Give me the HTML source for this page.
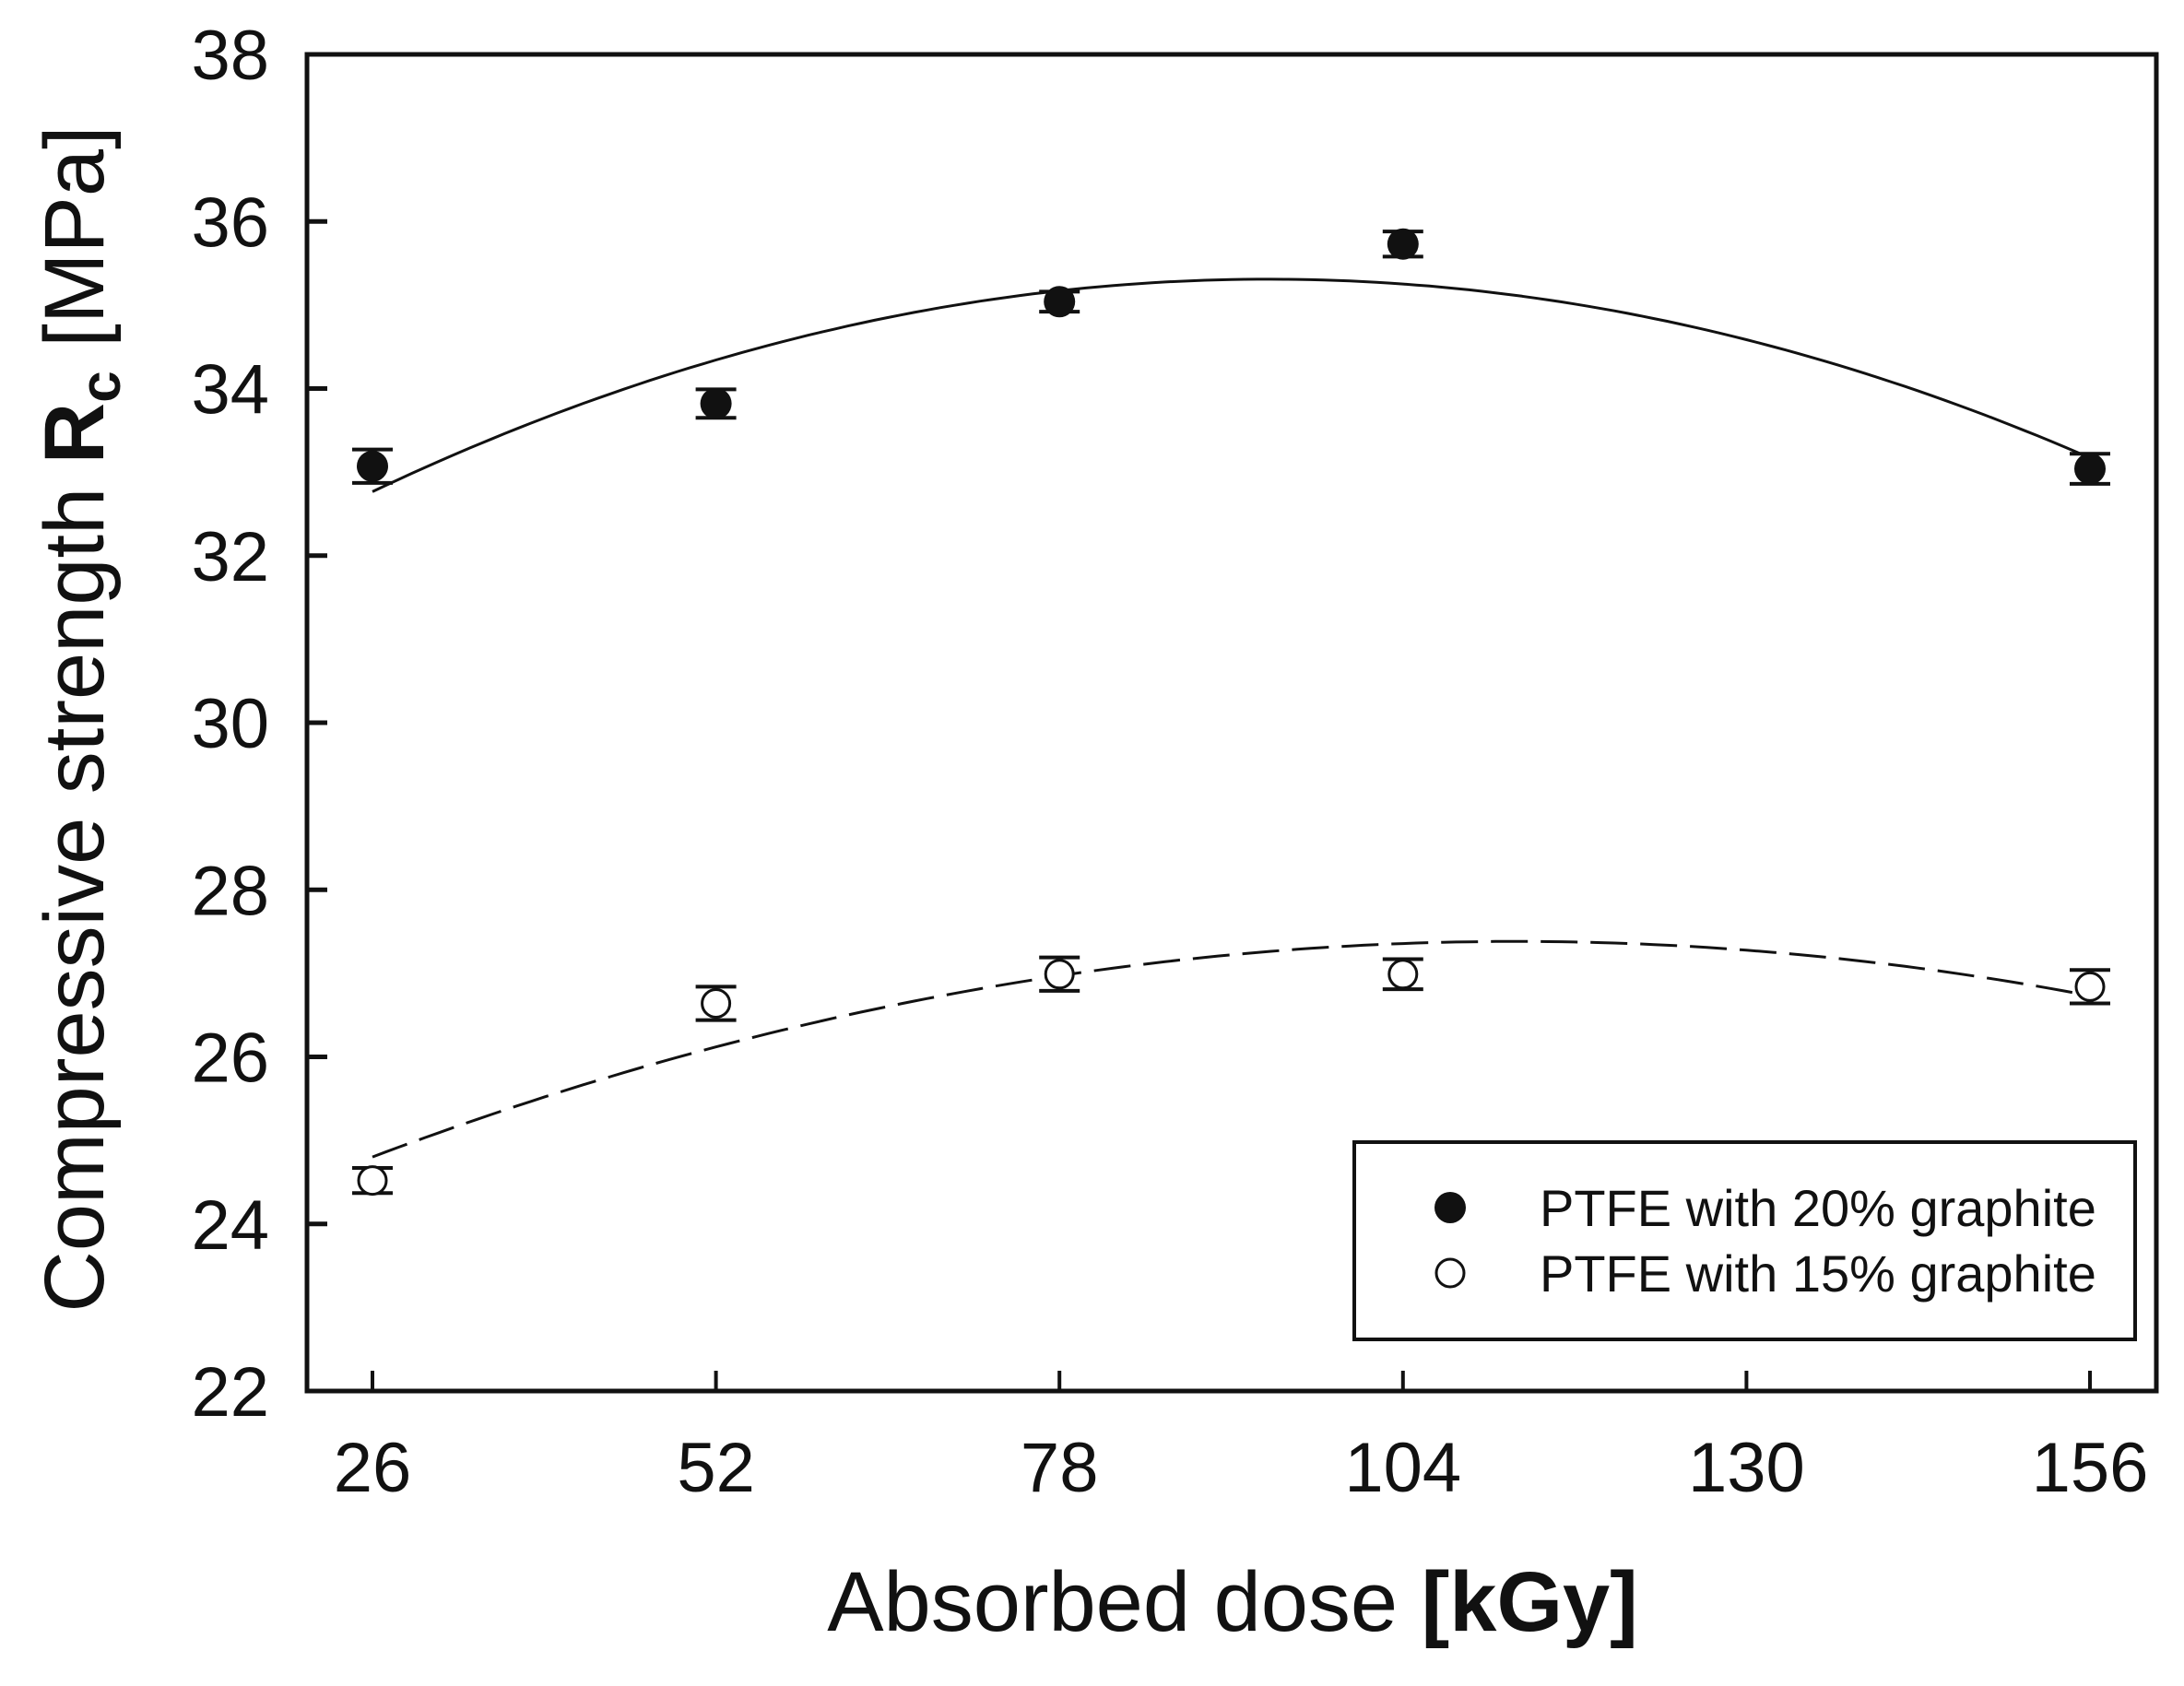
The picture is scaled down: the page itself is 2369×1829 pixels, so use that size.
<!DOCTYPE html>
<html><head><meta charset="utf-8"><style>
body{margin:0;background:#fff}
svg{display:block}
text{font-family:"Liberation Sans",sans-serif;fill:#111}
</style></head><body>
<svg id="chart" width="2369" height="1829" viewBox="0 0 2369 1829" xmlns="http://www.w3.org/2000/svg">
<rect width="2369" height="1829" fill="#fff"/>
<g id="plot"></g>
<text x="1337" y="1769" font-size="92" text-anchor="middle">Absorbed dose <tspan font-weight="bold">[kGy]</tspan></text>
<text transform="translate(112,780) rotate(-90)" font-size="92" text-anchor="middle">Compressive strength <tspan font-weight="bold">R</tspan><tspan font-weight="bold" font-size="62" dy="18">c</tspan><tspan dy="-18"> [MPa]</tspan></text>
<g>
<rect x="1469" y="1239" width="847" height="214" fill="#fff" stroke="#111" stroke-width="4"/>
<circle cx="1573" cy="1310" r="17" fill="#111"/>
<text x="1670" y="1330" font-size="56">PTFE with 20% graphite</text>
<circle cx="1573" cy="1381" r="15" fill="#fff" stroke="#111" stroke-width="3"/>
<text x="1670" y="1401" font-size="56">PTFE with 15% graphite</text>
</g>
</svg>
<script>
const doses = [26, 52, 78, 104, 156];
const series20 = [33.07, 33.82, 35.04, 35.73, 33.04];
const err20 = [0.2, 0.17, 0.12, 0.15, 0.18];
const series15 = [24.52, 26.64, 26.99, 26.99, 26.84];
const err15 = [0.15, 0.2, 0.2, 0.18, 0.2];
const xTicks = [26, 52, 78, 104, 130, 156];
const yTicks = [22, 24, 26, 28, 30, 32, 34, 36, 38];

const L=333,R=2339,T=59,B=1509;
const xs=v=>404+(v-26)*(2267-404)/130;
const ys=v=>B-(v-22)*(B-T)/16;
const NS='http://www.w3.org/2000/svg';
const g=document.getElementById('plot');
function mk(tag,a,parent){const e=document.createElementNS(NS,tag);for(const k in a)e.setAttribute(k,a[k]);(parent||g).appendChild(e);return e;}

const frame=mk('rect',{x:L,y:T,width:R-L,height:B-T,fill:'none',stroke:'#111','stroke-width':5});


xTicks.forEach(t=>{
  const ln=mk('line',{x1:xs(t),x2:xs(t),y1:B,y2:B-22,stroke:'#111','stroke-width':4});
  
  
  const tx=mk('text',{x:xs(t),y:1618,'font-size':76,'text-anchor':'middle'});tx.textContent=t;
  
  
});
yTicks.forEach(t=>{
  const ln=mk('line',{x1:L,x2:L+22,y1:ys(t),y2:ys(t),stroke:'#111','stroke-width':5});
  
  
  const tx=mk('text',{x:292,y:ys(t)+27,'font-size':76,'text-anchor':'end'});tx.textContent=t;
  
  
});

function quadFit(xv,yv){
  let S=[0,0,0,0,0],Ty=[0,0,0];
  for(let i=0;i<xv.length;i++){const x=xv[i],y=yv[i];for(let p=0;p<5;p++)S[p]+=Math.pow(x,p);for(let p=0;p<3;p++)Ty[p]+=y*Math.pow(x,p);}
  const M=[[S[0],S[1],S[2],Ty[0]],[S[1],S[2],S[3],Ty[1]],[S[2],S[3],S[4],Ty[2]]];
  for(let i=0;i<3;i++){for(let j=i+1;j<3;j++){const f=M[j][i]/M[i][i];for(let k=i;k<4;k++)M[j][k]-=f*M[i][k];}}
  const c=[0,0,0];for(let i=2;i>=0;i--){let s=M[i][3];for(let k=i+1;k<3;k++)s-=M[i][k]*c[k];c[i]=s/M[i][i];}
  return x=>c[0]+c[1]*x+c[2]*x*x;
}
function curve(yv,dash,name){
  const f=quadFit(doses,yv);let d='';
  for(let x=26;x<=156;x+=1)d+=(x===26?'M':'L')+xs(x).toFixed(1)+','+ys(f(x)).toFixed(1);
  const p=mk('path',{d,fill:'none',stroke:'#111','stroke-width':3,'stroke-dasharray':dash||'none'});
  
  
}
curve(series20,null,'fit-curve-20');
curve(series15,'40,14','fit-curve-15');

function points(yv,ev,filled,name){
  yv.forEach((v,i)=>{
    const x=xs(doses[i]),y1=ys(v+ev[i]),y2=ys(v-ev[i]);
    const eb=mk('path',{d:`M${x-22},${y1}H${x+22}M${x},${y1}V${y2}M${x-22},${y2}H${x+22}`,stroke:'#111','stroke-width':4,fill:'none'});
    
    
    const c=mk('circle',{cx:x,cy:ys(v),r:filled?17:15,fill:filled?'#111':'#fff',stroke:'#111','stroke-width':filled?0:3});
    
    
  });
}
points(series20,err20,true,'series-20');
points(series15,err15,false,'series-15');
</script>
</body></html>
